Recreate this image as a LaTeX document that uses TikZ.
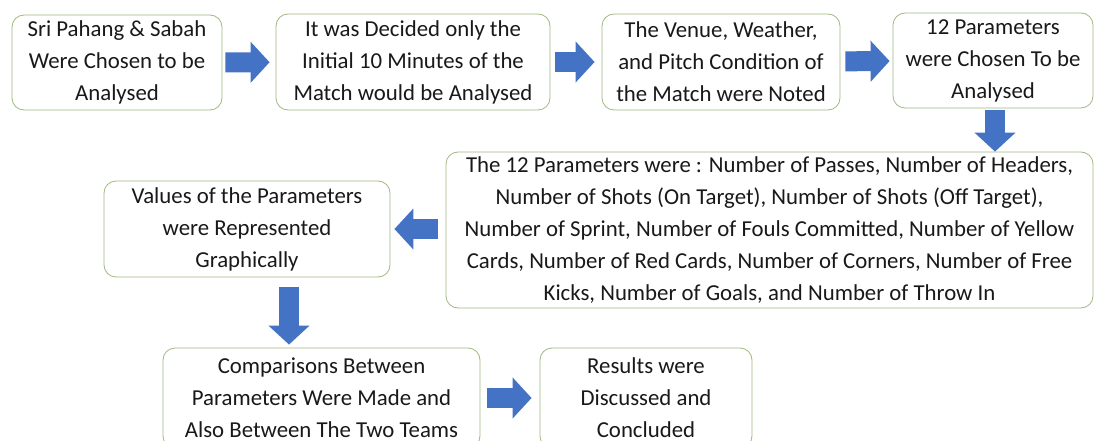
\documentclass[tikz,border=0pt]{standalone}
\usepackage{fontspec}
\setmainfont{Carlito}
\usetikzlibrary{arrows.meta}

\definecolor{boxline}{RGB}{160,184,130}
\definecolor{flowblue}{RGB}{68,114,196}
\definecolor{boxtext}{RGB}{25,25,25}

\tikzset{
    stepbox/.style={draw=boxline, line width=0.8pt, rounded corners=12pt, fill=white,
        align=center, text=boxtext, inner sep=0pt,
        font=\fontsize{22.8}{32}\selectfont},
    flow/.style={draw=flowblue, line width=20pt,
        -{Triangle[length=19pt, width=40pt]}, color=flowblue}
}

\begin{document}
\begin{tikzpicture}[x=1pt, y=-1pt]
        \useasboundingbox (0, 0) rectangle (1096, 441);
        \clip (0, 0) rectangle (1096, 441);
        \node[stepbox, minimum width=210pt, minimum height=95pt] at (117, 62.5)   (chosen)  {Sri Pahang \& Sabah\\Were Chosen to be\\Analysed};
        \node[stepbox, minimum width=274pt, minimum height=96pt] at (413, 62)     (minutes) {It was Decided only the\\Initial 10 Minutes of the\\Match would be Analysed};
        \node[stepbox, minimum width=238pt, minimum height=96pt] at (721, 62)     (venue)   {The Venue, Weather,\\and Pitch Condition of\\the Match were Noted};
        \node[stepbox, minimum width=200pt, minimum height=95pt] at (993, 60.5)   (params)  {12 Parameters\\were Chosen To be\\Analysed};
        \node[stepbox, minimum width=647pt, minimum height=156pt] at (769.5, 230) (list)    {The 12 Parameters were : Number of Passes, Number of Headers,\\Number of Shots (On Target), Number of Shots (Off Target),\\Number of Sprint, Number of Fouls Committed, Number of Yellow\\Cards, Number of Red Cards, Number of Corners, Number of Free\\Kicks, Number of Goals, and Number of Throw In};
        \node[stepbox, minimum width=286pt, minimum height=96pt] at (247, 229)    (graph)   {Values of the Parameters\\were Represented\\Graphically};
        \node[stepbox, minimum width=317pt, minimum height=100pt] at (321.5, 398) (compare) {Comparisons Between\\Parameters Were Made and\\Also Between The Two Teams};
        \node[stepbox, minimum width=212pt, minimum height=100pt] at (646, 398)   (results) {Results were\\Discussed and\\Concluded};

        \draw[flow, shorten <=3pt, shorten >=6pt] (chosen) -- (minutes);
        \draw[flow, shorten <=5pt, shorten >=7pt] (minutes) -- (venue);
        \draw[flow, shorten <=5pt, shorten >=3pt] (venue) -- (params);
        \draw[flow, shorten <=2pt, shorten >=0pt] ([xshift=2pt]params.south) -- ([xshift=2pt]params.south |- list.north);
        \draw[flow, shorten <=8pt, shorten >=4pt] (list.west |- graph) -- (graph);
        \draw[flow, shorten <=10pt, shorten >=3pt] ([xshift=42pt]graph.south) -- ([xshift=42pt]graph.south |- compare.north);
        \draw[flow, shorten <=7pt, shorten >=8pt] (compare) -- (results);
    \end{tikzpicture}
\end{document}
